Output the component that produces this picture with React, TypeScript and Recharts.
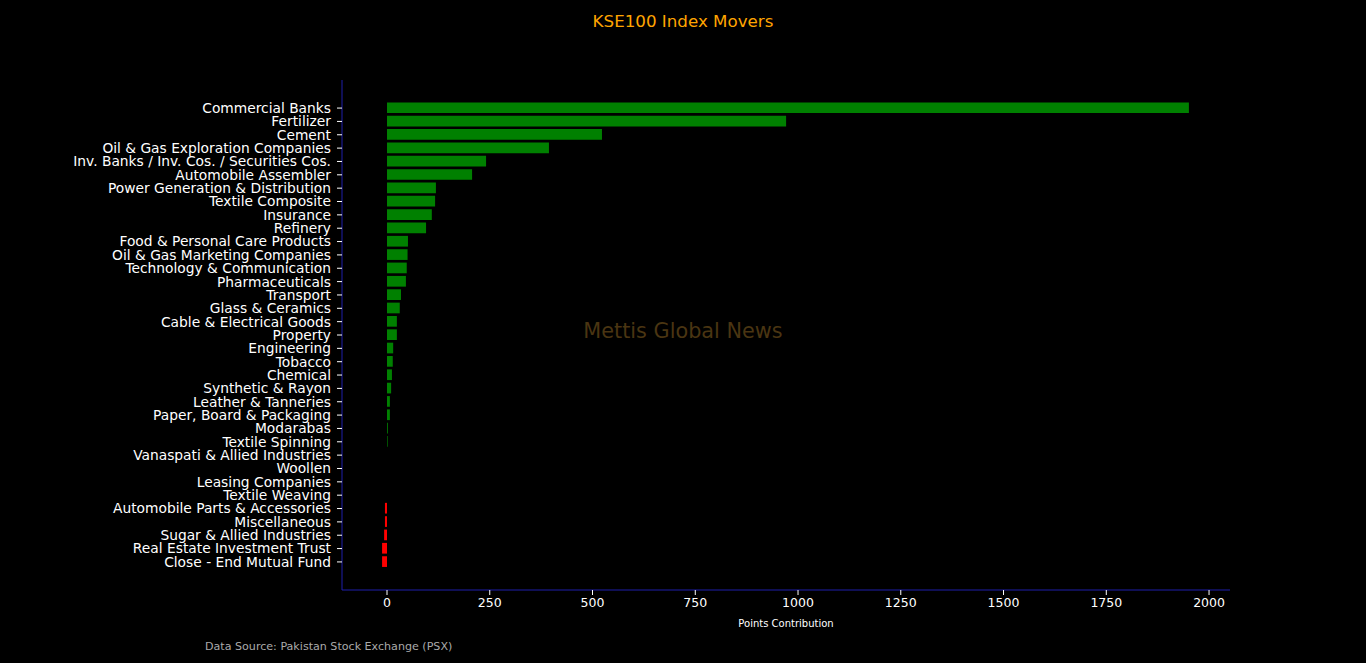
import React from 'react';
import { BarChart, Bar, XAxis, YAxis, Cell } from 'recharts';

const categories = [
  'Commercial Banks',
  'Fertilizer',
  'Cement',
  'Oil & Gas Exploration Companies',
  'Inv. Banks / Inv. Cos. / Securities Cos.',
  'Automobile Assembler',
  'Power Generation & Distribution',
  'Textile Composite',
  'Insurance',
  'Refinery',
  'Food & Personal Care Products',
  'Oil & Gas Marketing Companies',
  'Technology & Communication',
  'Pharmaceuticals',
  'Transport',
  'Glass & Ceramics',
  'Cable & Electrical Goods',
  'Property',
  'Engineering',
  'Tobacco',
  'Chemical',
  'Synthetic & Rayon',
  'Leather & Tanneries',
  'Paper, Board & Packaging',
  'Modarabas',
  'Textile Spinning',
  'Vanaspati & Allied Industries',
  'Woollen',
  'Leasing Companies',
  'Textile Weaving',
  'Automobile Parts & Accessories',
  'Miscellaneous',
  'Sugar & Allied Industries',
  'Real Estate Investment Trust',
  'Close - End Mutual Fund',
];

const points = [
  1951, 971, 523, 394, 241, 207, 119, 117, 109, 95,
  51, 50, 48, 46, 34, 31, 24, 24, 15, 14,
  12, 10, 7, 7, 2, 1.5, 0, 0, 0, 0,
  -5, -5, -7, -12, -12,
];

const xTicks = [0, 250, 500, 750, 1000, 1250, 1500, 1750, 2000];

const data = categories.map((name, i) => ({ name, value: points[i] }));

const FONT = '"DejaVu Sans", sans-serif';
const SPINE = '#1e1eaa';

export default function App() {
  return (
    <div style={{ position: 'absolute', left: 0, top: 0, width: 1366, height: 663, background: '#000', fontFamily: FONT }}>
      <BarChart
        width={1366}
        height={663}
        data={data}
        layout="vertical"
        margin={{ top: 80, right: 136, bottom: 0, left: 0 }}
      >
        <XAxis
          type="number"
          domain={[-109.5, 2051]}
          allowDataOverflow
          ticks={xTicks}
          height={73}
          stroke={SPINE}
          tickSize={5}
          tickMargin={3}
          tickLine={{ stroke: '#ffffff' }}
          tick={{ fill: '#ffffff', fontSize: 12.5, fontFamily: FONT }}
          interval={0}
        />
        <YAxis
          type="category"
          dataKey="name"
          width={342}
          padding={{ top: 21.4, bottom: 21.4 }}
          stroke={SPINE}
          tickSize={5}
          tickMargin={6}
          tickLine={{ stroke: '#ffffff' }}
          tick={{ fill: '#ffffff', fontSize: 13.8, fontFamily: FONT }}
          interval={0}
        />
        <Bar dataKey="value" barSize={10.7} isAnimationActive={false}>
          {data.map((d, i) => (
            <Cell key={i} fill={d.value >= 0 ? '#008000' : '#ff0000'} />
          ))}
        </Bar>
      </BarChart>
      <svg width={1366} height={663} style={{ position: 'absolute', left: 0, top: 0, pointerEvents: 'none' }}>
        <text x={683} y={27} textAnchor="middle" fill="#ffa500" fontSize={16.7} fontFamily={FONT}>
          KSE100 Index Movers
        </text>
        <text x={683} y={338} textAnchor="middle" fill="#4a3512" fontSize={20.8} fontFamily={FONT}>
          Mettis Global News
        </text>
        <text x={786} y={627} textAnchor="middle" fill="#ffffff" fontSize={10} fontFamily={FONT}>
          Points Contribution
        </text>
        <text x={205} y={650} textAnchor="start" fill="#aaaaaa" fontSize={11.1} fontFamily={FONT}>
          Data Source: Pakistan Stock Exchange (PSX)
        </text>
      </svg>
    </div>
  );
}
